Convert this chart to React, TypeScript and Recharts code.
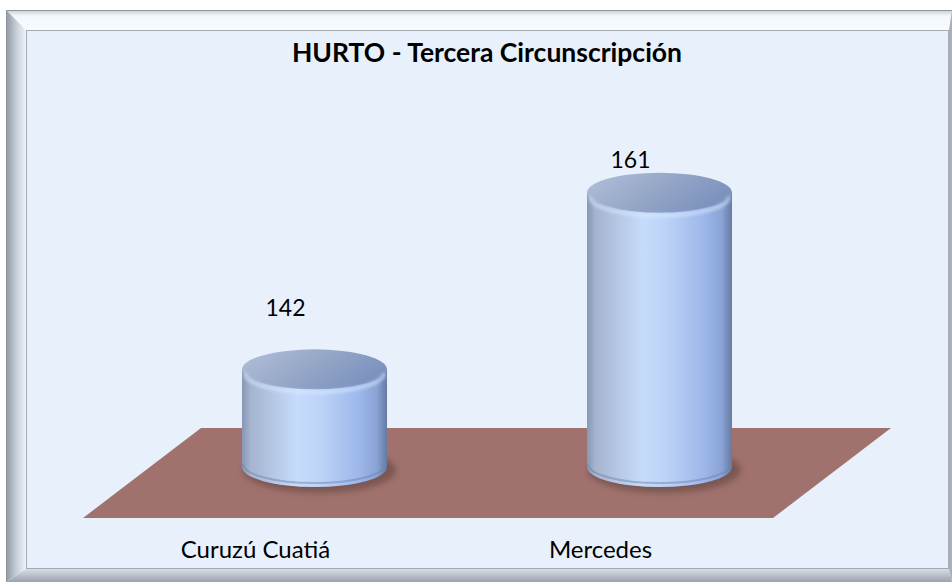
import React from 'react';
import { BarChart, Bar, XAxis, YAxis, ReferenceArea, LabelList } from 'recharts';

const categories = ['Curuzú Cuatiá', 'Mercedes'];
const hurtoValues = [142, 161];
const titleText = 'HURTO - Tercera Circunscripción';
const AXIS_MIN = 131.5;
const AXIS_MAX = 170;

const data = categories.map((c, i) => ({ name: c, value: hurtoValues[i] }));

const FONT = 'Lato, "Noto Sans", sans-serif';
const SHIFT_X = 59;
const SHIFT_Y = 51;
const RY = 20;

const Floor = (props: any) => {
  const { x, y, width, height } = props;
  const bottom = y + height;
  const dx = 118;
  const dy = 90;
  const pts = `${x},${bottom} ${x + width},${bottom} ${x + width + dx},${bottom - dy} ${x + dx},${bottom - dy}`;
  return <polygon points={pts} fill="#A1726D" />;
};

const Cylinder = (props: any) => {
  const { x, y, width, height, index } = props;
  if (width == null || height == null) return null;
  const rx = width / 2;
  const cx = x + rx + SHIFT_X;
  const top = y - SHIFT_Y;
  const bot = y + height - SHIFT_Y;
  const id = `cyl${index}`;
  return (
    <g>
      <defs>
        <linearGradient id={`${id}-body`} x1="0" y1="0" x2="1" y2="0">
          <stop offset="0%" stopColor="#8797b4" />
          <stop offset="6%" stopColor="#a5b4cf" />
          <stop offset="38%" stopColor="#c6dcfb" />
          <stop offset="55%" stopColor="#bcd3f7" />
          <stop offset="80%" stopColor="#9db8ea" />
          <stop offset="93%" stopColor="#8aa3d6" />
          <stop offset="100%" stopColor="#657aa2" />
        </linearGradient>
        <linearGradient id={`${id}-top`} x1="0" y1="0" x2="1" y2="0.4">
          <stop offset="0%" stopColor="#b2c0da" />
          <stop offset="50%" stopColor="#98a9c8" />
          <stop offset="100%" stopColor="#7d93bf" />
        </linearGradient>
        <filter id={`${id}-blur`} x="-20%" y="-50%" width="140%" height="200%">
          <feGaussianBlur stdDeviation="3" />
        </filter>
        <filter id={`${id}-soft`} x="-10%" y="-50%" width="120%" height="200%">
          <feGaussianBlur stdDeviation="1.5" />
        </filter>
      </defs>
      <ellipse cx={cx + 5} cy={bot + 3} rx={rx + 4} ry={RY + 3} fill="#4e3432" opacity={0.45} filter={`url(#${id}-blur)`} />
      <path
        d={`M${cx - rx},${top} L${cx - rx},${bot} A${rx},${RY} 0 0 0 ${cx + rx},${bot} L${cx + rx},${top} Z`}
        fill={`url(#${id}-body)`}
      />
      <ellipse cx={cx} cy={top} rx={rx} ry={RY} fill={`url(#${id}-top)`} />
      <path
        d={`M${cx - rx + 3},${top + 4} A${rx - 3},${RY - 1} 0 0 0 ${cx + rx - 3},${top + 4}`}
        fill="none"
        stroke="#dceaff"
        strokeWidth={4}
        opacity={0.55}
        filter={`url(#${id}-soft)`}
      />
      <path
        d={`M${cx - rx + 1},${bot - 3} A${rx - 1},${RY - 1} 0 0 0 ${cx + rx - 1},${bot - 3}`}
        fill="none"
        stroke="#6f83ab"
        strokeWidth={2}
        opacity={0.5}
      />
    </g>
  );
};

const ValueLabel = (props: any) => {
  const { x, y, width, value } = props;
  const cx = x + width / 2 + 30;
  const ly = y * 0.835 - 44;
  return (
    <text x={cx} y={ly} textAnchor="middle" dominantBaseline="central" fontFamily={FONT} fontSize={23} fill="#000">
      {value}
    </text>
  );
};

const CategoryTick = (props: any) => {
  const { x, y, payload } = props;
  return (
    <text x={x} y={y + 40} textAnchor="middle" fontFamily={FONT} fontSize={24} fill="#000">
      {payload.value}
    </text>
  );
};

const Frame = () => (
  <svg width={952} height={582} style={{ position: 'absolute', left: 0, top: 0 }}>
    <defs>
      <linearGradient id="fr-top" x1="0" y1="0" x2="0" y2="1">
        <stop offset="0%" stopColor="#c9cfd6" />
        <stop offset="30%" stopColor="#f3f7fb" />
        <stop offset="100%" stopColor="#f8fbfe" />
      </linearGradient>
      <linearGradient id="fr-left" x1="0" y1="0" x2="1" y2="0">
        <stop offset="0%" stopColor="#8e97a3" />
        <stop offset="50%" stopColor="#c4ccd6" />
        <stop offset="100%" stopColor="#eef3f8" />
      </linearGradient>
      <linearGradient id="fr-bottom" x1="0" y1="0" x2="0" y2="1">
        <stop offset="0%" stopColor="#d6dde5" />
        <stop offset="100%" stopColor="#9aa2ac" />
      </linearGradient>
    </defs>
    <rect x={0} y={0} width={952} height={582} fill="#ffffff" />
    <polygon points="6,10 952,10 949,30 26,30" fill="url(#fr-top)" />
    <polygon points="6,10 26,30 26,569 6,582" fill="url(#fr-left)" />
    <polygon points="26,569 949,569 952,582 6,582" fill="url(#fr-bottom)" />
    <polygon points="949,30 952,10 952,582 949,569" fill="#a9b0b8" />
    <line x1={6} y1={10.5} x2={952} y2={10.5} stroke="#8d949c" strokeWidth={1} />
    <line x1={6.5} y1={10} x2={6.5} y2={582} stroke="#8d949c" strokeWidth={1} />
    <rect x={26.5} y={30.5} width={922} height={538} fill="#E8F1FB" stroke="#a3aab3" strokeWidth={1} />
  </svg>
);

export default function App() {
  return (
    <div style={{ position: 'absolute', left: 0, top: 0, width: 952, height: 582 }}>
      <Frame />
      <div style={{ position: 'absolute', left: 0, top: 0 }}>
        <BarChart
          width={952}
          height={582}
          data={data}
          margin={{ top: 160, right: 179, bottom: 34, left: 83 }}
          style={{ background: 'transparent' }}
        >
          <text x={487} y={52} textAnchor="middle" dominantBaseline="central" fontFamily={FONT} fontWeight="bold" fontSize={26.5} fill="#000">
            {titleText}
          </text>
          <XAxis
            dataKey="name"
            axisLine={false}
            tickLine={false}
            tickSize={0}
            tickMargin={0}
            height={30}
            tick={<CategoryTick />}
            interval={0}
          />
          <YAxis hide domain={[AXIS_MIN, AXIS_MAX]} allowDataOverflow />
          <ReferenceArea y1={AXIS_MIN} shape={<Floor />} ifOverflow="visible" fillOpacity={1} />
          <Bar dataKey="value" barSize={145} shape={<Cylinder />} isAnimationActive={false}>
            <LabelList dataKey="value" content={<ValueLabel />} />
          </Bar>
        </BarChart>
      </div>
    </div>
  );
}
